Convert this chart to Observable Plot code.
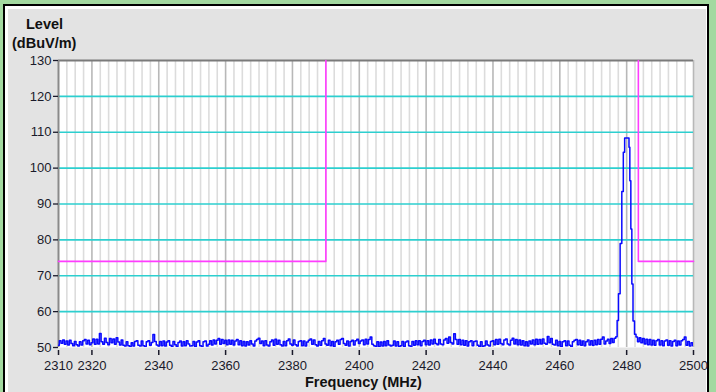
<!DOCTYPE html>
<html>
<head>
<meta charset="utf-8">
<script src="https://cdn.jsdelivr.net/npm/d3@7"></script>
<script src="https://cdn.jsdelivr.net/npm/@observablehq/plot@0.6"></script>
<style>
  html, body { margin: 0; padding: 0; }
  #wrap { position: relative; width: 716px; height: 392px; background: #a3d9a0; overflow: hidden; font-family: "Liberation Sans", Arial, sans-serif; }
  #border { position: absolute; left: 3px; top: 4px; width: 702px; height: 400px; border: 2px solid #000; background: #fff; }
  #inner { position: absolute; left: 8px; top: 9px; width: 698px; height: 390px; background: #e3e3e3; }
  #chart { position: absolute; left: 0; top: 0; }
  .lbl { position: absolute; font-weight: bold; font-size: 14.5px; color: #111; white-space: nowrap; }
</style>
</head>
<body>
<div id="wrap">
  <div id="border"></div>
  <div id="inner"></div>
  <div id="chart"></div>
  <div class="lbl" style="left:26px; top:16px;">Level</div>
  <div class="lbl" style="left:12px; top:35px;">(dBuV/m)</div>
  <div class="lbl" style="left:305px; top:374px;">Frequency (MHz)</div>
</div>
<script>
// ---- data ----
const xTickValues = [2310, 2320, 2340, 2360, 2380, 2400, 2420, 2440, 2460, 2480, 2500];
const yTickValues = [50, 60, 70, 80, 90, 100, 110, 120, 130];

// noise floor, 2310.0 .. 2476.5 MHz, 0.5 MHz sweep step
const noiseLowStart = 2310.0;
const noiseLow = [
50.6,51.9,51.2,52.1,50.9,51.8,50.7,52.0,51.1,50.5,
51.7,50.8,50.4,51.6,50.7,51.9,52.2,51.0,52.0,50.8,
51.3,52.4,50.9,52.3,51.0,53.9,51.6,50.9,52.6,51.4,
50.8,52.5,51.3,52.4,50.9,52.7,51.5,50.7,52.1,50.6,
50.4,51.6,50.5,50.3,51.3,50.4,51.7,51.9,50.6,50.4,
51.8,50.5,50.3,51.6,51.9,50.6,51.4,53.6,51.7,50.7,
50.4,51.7,50.5,51.8,50.4,51.5,51.9,50.6,50.3,51.7,
50.8,50.3,51.4,51.8,50.4,51.6,50.5,51.9,51.0,50.4,
50.5,51.7,50.3,51.5,51.9,50.5,50.3,51.6,51.8,50.4,
50.9,51.9,50.7,52.1,51.0,52.0,52.5,50.9,52.2,51.1,
52.0,50.8,52.1,50.9,52.0,50.7,51.8,52.2,50.8,51.9,
50.5,51.7,50.4,51.6,50.7,51.9,51.0,50.4,51.8,52.2,
52.6,51.1,51.8,50.5,51.9,50.7,50.4,51.6,52.1,50.6,
52.3,50.9,52.0,50.8,50.4,51.7,50.5,51.9,52.4,51.0,
50.6,52.1,50.8,50.4,51.7,51.9,50.5,51.8,50.4,51.5,
52.0,52.4,50.9,52.1,50.8,50.4,51.7,50.6,51.9,52.5,
51.0,50.6,52.0,50.5,51.7,50.3,51.6,52.0,50.9,52.2,
52.5,51.1,50.6,51.8,50.4,51.7,52.0,50.7,51.9,52.3,
51.1,51.8,52.1,50.8,52.3,51.0,52.2,52.9,50.9,50.5,
50.3,51.6,50.3,51.5,50.4,51.7,50.5,51.9,50.7,50.4,
50.6,51.8,50.4,51.6,50.3,50.5,51.7,50.3,51.5,51.8,
50.5,50.3,51.7,50.6,51.9,50.8,51.9,50.5,51.7,52.0,
50.8,51.9,50.7,52.1,51.0,52.3,51.1,50.8,52.2,51.0,
50.8,52.1,52.5,51.2,52.9,51.4,51.0,53.8,52.2,50.9,
52.2,50.8,52.0,50.6,51.9,50.4,51.6,51.9,50.5,51.7,
51.8,50.6,50.3,51.6,50.3,50.5,51.8,50.7,50.4,51.7,
51.9,50.8,52.2,50.9,52.3,51.1,50.8,52.1,52.4,51.0,
50.7,52.0,52.6,51.0,52.2,50.8,52.1,50.7,51.9,50.5,
51.6,50.4,51.8,51.0,52.1,50.8,52.3,50.9,52.2,51.0,
52.4,51.2,50.9,53.1,51.3,52.5,50.9,50.7,52.0,50.5,
51.7,50.3,51.6,51.9,50.5,51.8,50.6,50.3,51.6,52.0,
52.2,50.8,52.0,50.6,51.8,50.5,51.6,52.1,50.7,51.9,
50.6,52.0,50.8,52.2,50.9,52.3,52.9,51.0,51.8,52.3,
51.1,52.5,51.4,52.6
];

// carrier peak
const peakFreq  = [2477.0, 2477.3, 2477.8, 2478.3, 2478.8, 2479.2, 2479.6, 2480.6, 2480.8, 2481.1, 2481.4, 2481.7, 2482.1, 2482.6];
const peakLevel = [53.0, 57.5, 65.0, 79.0, 93.5, 104.4, 108.4, 108.4, 105.8, 96.5, 83.0, 67.7, 57.4, 53.7];

// noise floor, 2483.0 .. 2500.0 MHz, 0.5 MHz sweep step
const noiseHighStart = 2483.0;
const noiseHigh = [
52.9,51.6,52.7,51.3,52.5,51.0,52.3,50.8,52.2,50.7,
52.0,50.6,51.9,52.2,50.7,51.9,50.5,51.8,52.1,50.6,
51.9,50.4,51.7,52.0,50.5,51.8,50.7,51.9,52.2,52.9,
50.6,51.7,50.4,51.3,50.5
];
const sweepStep = 0.5;

// limit lines
const limitLeftFreq   = [2310, 2390, 2390];
const limitLeftLevel  = [74, 74, 130];
const limitRightFreq  = [2483.5, 2483.5, 2500];
const limitRightLevel = [130, 74, 74];

// ---- build table ----
const trace = [];
noiseLow.forEach((v, i) => trace.push({f: noiseLowStart + i * sweepStep, v}));
peakFreq.forEach((f, i) => trace.push({f, v: peakLevel[i]}));
noiseHigh.forEach((v, i) => trace.push({f: noiseHighStart + i * sweepStep, v}));

const limL = limitLeftFreq.map((f, i) => ({f, v: limitLeftLevel[i]}));
const limR = limitRightFreq.map((f, i) => ({f, v: limitRightLevel[i]}));

const minorGrid = d3.range(2312.5, 2500, 2.5).filter(f => (f - 2320) % 20 !== 0);
const majorGrid = d3.range(2320, 2501, 20);
const hGrid = yTickValues.filter(v => v > 50 && v < 130);

const chart = Plot.plot({
  width: 716,
  height: 392,
  marginLeft: 58,
  marginRight: 23,
  marginTop: 60,
  marginBottom: 45,
  style: {background: "transparent", fontFamily: "'Liberation Sans', Arial, sans-serif", fontSize: "13px", color: "#1a1a2a", overflow: "visible"},
  x: {domain: [2310, 2500], label: null},
  y: {domain: [50, 130], label: null},
  marks: [
    Plot.frame({fill: "white", stroke: "none"}),
    Plot.gridX(minorGrid, {stroke: "#dcdcdc", strokeOpacity: 1, strokeWidth: 1.6}),
    Plot.gridX(majorGrid, {stroke: "#b8b8b8", strokeOpacity: 1, strokeWidth: 1.6}),
    Plot.gridY(hGrid, {stroke: "#2dcfcf", strokeOpacity: 1, strokeWidth: 1.6}),
    Plot.ruleY([130], {stroke: "#7a7a7a", strokeWidth: 2}),
    Plot.ruleX([2310], {stroke: "#8a8a8a", strokeWidth: 2}),
    Plot.line(limL, {x: "f", y: "v", stroke: "#ff3cff", strokeWidth: 1.6}),
    Plot.line(limR, {x: "f", y: "v", stroke: "#ff3cff", strokeWidth: 1.6}),
    Plot.line(trace, {x: "f", y: "v", curve: "step", stroke: "#0a0aff", strokeWidth: 1.5, clip: true}),
    Plot.axisY(yTickValues, {tickSize: 5, tickPadding: 2, fontSize: 13, strokeWidth: 1.3, label: null}),
    Plot.axisX(xTickValues, {tickSize: 5, tickPadding: 5, dy: 3, fontSize: 13, strokeWidth: 1.5, label: null, tickFormat: d => String(d)})
  ]
});
document.getElementById("chart").appendChild(chart);
</script>
</body>
</html>
